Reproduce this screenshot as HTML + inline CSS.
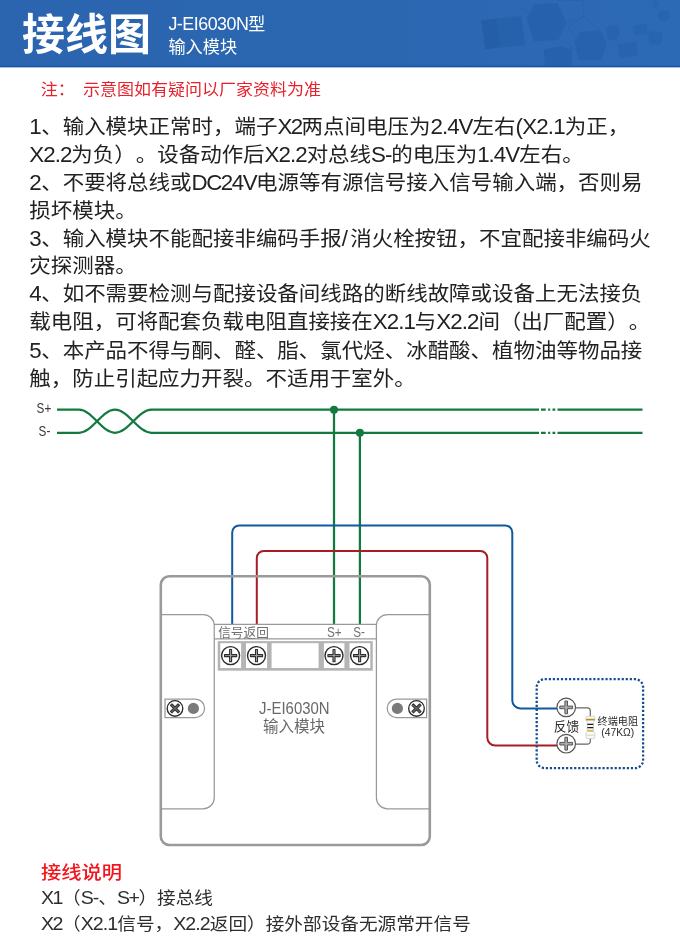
<!DOCTYPE html>
<html lang="zh-CN">
<head>
<meta charset="utf-8">
<title>接线图 J-EI6030N型 输入模块</title>
<style>
*{margin:0;padding:0;box-sizing:border-box}
html,body{width:680px;height:943px;overflow:hidden;background:#fff}
#page{position:absolute;left:0;top:0;width:680px;height:943px;background:#fff;overflow:hidden;will-change:transform}
body{position:relative;text-spacing-trim:space-all;font-kerning:none;font-family:"Liberation Sans","Noto Sans CJK SC",sans-serif;color:#1f1f1f}
.abs{position:absolute;white-space:nowrap}
#hdr{position:absolute;left:0;top:0;width:680px;height:68px;overflow:hidden}
#title{left:22px;top:13.3px;font-size:43px;line-height:44px;font-weight:700;color:#fff}
#sub1{left:168.4px;top:13.9px;font-size:17px;line-height:22px;color:#fff}
#sub2{left:168.4px;top:35.6px;font-size:17.2px;line-height:22px;color:#fff}
#note{left:40.7px;top:79.4px;font-size:17px;line-height:22px;color:#e8202c;transform-origin:0 19px;transform:scaleY(0.95)}
#note span{position:absolute;left:42.3px;top:0}
#pw{position:absolute;left:29.3px;top:113.65px;transform-origin:0 0;transform:scaleY(0.96);white-space:nowrap;font-size:21.47px;line-height:29.06px;color:#222}
#pw span,.d span,#sub1 span{line-height:0}
.h2{left:41px;top:860.4px;font-size:20.3px;line-height:26px;color:#f4141c;font-weight:500;transform-origin:0 50%;transform:scaleY(0.92)}
.d{left:41px;font-size:18.65px;line-height:26px;color:#2e2e2e;transform-origin:0 20.5px;transform:scaleY(0.94)}
svg{position:absolute;left:0;top:0;overflow:visible}
svg text{font-family:"Liberation Sans","Noto Sans CJK SC",sans-serif}
</style>
</head>
<body>
<div id="page">
<div id="hdr">
<svg id="deco" width="680" height="68" viewBox="0 0 680 68">
<defs><linearGradient id="hg" x1="0" y1="0" x2="1" y2="0"><stop offset="0" stop-color="#2b65af"/><stop offset="0.55" stop-color="#2b66b1"/><stop offset="1" stop-color="#2d6ab6"/></linearGradient></defs>
<rect width="680" height="66" fill="url(#hg)"/>
<g fill="#1d54a0" fill-opacity="0.32">
<polygon points="481.3,20.2 521.5,16.1 525.2,44.9 485.4,49"/>
<polygon points="481.3,20.2 496.5,18.6 499.8,47.5 485.4,49" fill-opacity="0.2"/>
<polygon points="526.6,18.5 533.8,4.5 557.5,3.1 566.4,22.6 558.5,40.1 533.8,41.2"/>
<polygon points="574.5,41.5 580.3,31.8 600.6,30.4 606.8,44.1 601.5,60 578.5,60"/>
<polygon points="543.7,49.4 560.6,46.3 571.9,49.4 571.9,67 545.2,67"/>
<polygon points="605.5,29.1 609.4,25.6 618.2,25.2 620,33.5 616.5,40.6 608.5,39.7" fill-opacity="0.26"/>
<polygon points="617.4,44.1 636.8,41.5 637.6,55.6 619.1,57.9" fill-opacity="0.26"/>
<polygon points="633.2,25.6 646.5,23.8 647.4,33.5 635,35.3" fill-opacity="0.24"/>
<polygon points="647.4,34.4 651.8,30.9 661.5,31.8 663.2,39.7 658.8,45.5 650,44.1" fill-opacity="0.24"/>
<polygon points="657.6,14.1 661.5,9.7 668.5,10.9 669.8,17.6 665.5,22.1 659.2,20.3" fill-opacity="0.22"/>
<polygon points="651.8,0.9 655.3,0 658.8,1.8 658.8,6.2 655.3,7.4 652.6,5.3" fill-opacity="0.2"/>
</g>
<g stroke="#1d4f96" stroke-opacity="0.3" stroke-width="0.7" fill="none">
<path d="M517.5,4.5L529.5,14M557,0L582.5,0.5L584,16.5L566.4,22.6M584,16.5L600,30M566.4,22.6L575,38M543,57L549,49M566,41L575,50M584,16.5L569,26"/>
</g>
<rect y="65.6" width="680" height="1.4" fill="#1755ad"/>
<rect y="67" width="680" height="1" fill="#a9c1e1"/>
</svg>
<div id="title" class="abs">接线图</div>
<div id="sub1" class="abs"><span style="font-size:1.05em;letter-spacing:-0.027em">J-EI6030N</span>型</div>
<div id="sub2" class="abs">输入模块</div>
</div>
<div id="note" class="abs">注：<span>示意图如有疑问以厂家资料为准</span></div>
<div id="pw">
<div><span style="font-size:1.04em;letter-spacing:-0.022em">1</span>、输入模块正常时，端子<span style="font-size:1.04em;letter-spacing:-0.069em">X2</span>两点间电压为<span style="font-size:1.04em;letter-spacing:-0.042em">2.4V</span>左右<span style="font-size:1.04em;letter-spacing:-0.036em">(X2.1</span>为正，</div>
<div><span style="font-size:1.04em;letter-spacing:-0.043em">X2.2</span>为负）。设备动作后<span style="font-size:1.04em;letter-spacing:-0.043em">X2.2</span>对总线<span style="font-size:1.04em;letter-spacing:-0.047em">S-</span>的电压为<span style="font-size:1.04em;letter-spacing:-0.042em">1.4V</span>左右。</div>
<div><span style="font-size:1.04em;letter-spacing:-0.022em">2</span>、不要将总线或<span style="font-size:1.04em;letter-spacing:-0.066em">DC24V</span>电源等有源信号接入信号输入端，否则易</div>
<div>损坏模块。</div>
<div><span style="font-size:1.04em;letter-spacing:-0.022em">3</span>、输入模块不能配接非编码手报<span style="font-size:1.04em;letter-spacing:0.099em">/</span>消火栓按钮，不宜配接非编码火</div>
<div>灾探测器。</div>
<div><span style="font-size:1.04em;letter-spacing:-0.022em">4</span>、如不需要检测与配接设备间线路的断线故障或设备上无法接负</div>
<div>载电阻，可将配套负载电阻直接接在<span style="font-size:1.04em;letter-spacing:-0.043em">X2.1</span>与<span style="font-size:1.04em;letter-spacing:-0.043em">X2.2</span>间（出厂配置）。</div>
<div><span style="font-size:1.04em;letter-spacing:-0.022em">5</span>、本产品不得与酮、醛、脂、氯代烃、冰醋酸、植物油等物品接</div>
<div>触，防止引起应力开裂。不适用于室外。</div>
</div>
<svg id="dia" width="680" height="943" viewBox="0 0 680 943" fill="none">
<!-- bus -->
<g stroke="#127a3f" stroke-width="2.25" stroke-linecap="butt">
<path d="M57,409.7 H79C92.3,409.7 101.7,432.8 115,432.8C128.5,432.8 138.0,409.7 151.5,409.7H539M541,409.7 h4.7M548.2,409.7 h2M552.5,409.7 h2.8M557.5,409.7 H642.5"/>
<path d="M57,432.8 H79C92.3,432.8 101.7,409.7 115,409.7C128.5,409.7 138.0,432.8 151.5,432.8H539M541,432.8 h4.7M548.2,432.8 h2M552.5,432.8 h2.8M557.5,432.8 H642.5"/>
<path d="M334,409.7V624.4M359.9,432.8V624.4"/>
</g>
<circle cx="334" cy="409.7" r="4" fill="#127a3f"/>
<circle cx="359.9" cy="432.8" r="4" fill="#127a3f"/>
<!-- feedback wires -->
<path d="M232.2,624.4V532.4A7,7 0 0 1 239.2,525.4H505.3A7,7 0 0 1 512.3,532.4V700.4A8,8 0 0 0 520.3,708.4H557" stroke="#10599e" stroke-width="2"/>
<path d="M256.8,624.4V558A7,7 0 0 1 263.8,551H480.3A7,7 0 0 1 487.3,558V737.6A8,8 0 0 0 495.3,745.6H557.6" stroke="#a81c25" stroke-width="2"/>
<!-- module -->
<rect x="160.8" y="576.3" width="269" height="268.7" rx="8.5" stroke="#9a9a9a" stroke-width="2.6"/>
<g stroke="#999" stroke-width="1.25">
<path d="M161,614.5H203.25A11,11 0 0 1 214.25,625.5V797.75A11,11 0 0 1 203.25,808.75H161"/>
<path d="M429.8,614.5H387.4A11,11 0 0 0 376.4,625.5V797.75A11,11 0 0 0 387.4,808.75H429.8"/>
<path d="M214.25,624.4H376.4M214.25,638.9H376.4"/>
<path d="M165,699.1H195.4A9.2,9.2 0 0 1 195.4,717.5H165Z"/>
<path d="M426.6,699.1H396.4A9.2,9.2 0 0 0 396.4,717.5H426.6Z"/>
</g>
<rect x="217.75" y="641.1" width="155" height="29.6" fill="#b4b4b4"/>
<g fill="#fff">
<rect x="220.3" y="643.2" width="20.8" height="24.8"/>
<rect x="246" y="643.2" width="21.1" height="24.8"/>
<rect x="271.6" y="643.2" width="47" height="24.8"/>
<rect x="323.9" y="643.2" width="20.5" height="24.8"/>
<rect x="349.5" y="643.2" width="20.8" height="24.8"/>
</g>
<defs>
<g id="scr"><circle r="9" fill="#fff" stroke="#2b2b2b" stroke-width="1.4"/><path d="M-1,-6.1h2v5.1h5.1v2h-5.1v5.1h-2v-5.1h-5.1v-2h5.1z" fill="#aaa" stroke="#2e2e2e" stroke-width="1.1" stroke-linejoin="round"/></g>
<g id="scr2"><circle r="9.3" fill="#fff" stroke="#555" stroke-width="1.2"/><path d="M-1.3,-6.4h2.6v5.1h5.1v2.6h-5.1v5.1h-2.6v-5.1h-5.1v-2.6h5.1z" fill="#aaa" stroke="#555" stroke-width="1" stroke-linejoin="round"/></g>
<g id="xs"><circle r="7.8" fill="#fff" stroke="#2a2a2a" stroke-width="1.35"/><path d="M-1.1,-5.4h2.2v4.3h4.3v2.2h-4.3v4.3h-2.2v-4.3h-4.3v-2.2h4.3z" transform="rotate(45)" fill="#666" stroke="#333" stroke-width="1" stroke-linejoin="round"/></g>
</defs>
<use href="#scr" x="230.6" y="655.6"/>
<use href="#scr" x="256.5" y="655.6"/>
<use href="#scr" x="334" y="655.6"/>
<use href="#scr" x="359.6" y="655.6"/>
<use href="#xs" x="175" y="708.4"/>
<use href="#xs" x="416.5" y="708.4"/>
<circle cx="193.4" cy="708.4" r="5.6" fill="#7a7a7a"/>
<circle cx="397.4" cy="708.4" r="5.6" fill="#7a7a7a"/>
<g fill="#707070" style="font-size:12.7px">
<text x="218.2" y="637.4">信号返回</text>
<text transform="translate(327,637.3) scale(0.82,1)" style="font-size:14.3px">S+</text>
<text transform="translate(353.2,637.3) scale(0.82,1)" style="font-size:14.3px">S-</text>
</g>
<g fill="#686868" text-anchor="middle">
<text transform="translate(294.3,713.7) scale(0.945,1)" style="font-size:15.8px">J-EI6030N</text>
<text x="294" y="731.9" style="font-size:15.5px">输入模块</text>
</g>
<!-- labels -->
<g fill="#3a3a3a" style="font-size:13.8px">
<text transform="translate(36.6,413.1) scale(0.85,1)">S+</text>
<text transform="translate(38.6,436.1) scale(0.85,1)">S-</text>
</g>
<!-- feedback box -->
<rect x="536.7" y="679.2" width="106.4" height="88.9" rx="8" stroke="#174f8d" stroke-width="2.3" stroke-dasharray="2.2 1.85"/>
<path d="M575.5,707.8H587.3A3,3 0 0 1 590.3,710.8V716.4M575.5,744.2H587.3A3,3 0 0 0 590.3,741.2V738.2" stroke="#666" stroke-width="1.2"/>
<path d="M586.9,716.3H593.9Q594.9,716.3 594.9,717.3V720.6Q593.4,721.4 593.4,722.6V731Q593.4,732.2 594.9,733V737.4Q594.9,738.4 593.9,738.4H586.9Q585.9,738.4 585.9,737.4V733Q587.3,732.2 587.3,731V722.6Q587.3,721.4 585.9,720.6V717.3Q585.9,716.3 586.9,716.3Z" fill="#fafafa" stroke="#c4c4c4" stroke-width="0.7"/>
<path d="M586.1,719.6H594.7" stroke="#b39216" stroke-width="1.7"/>
<path d="M587.4,724.4H593.3M587.4,727.6H593.3" stroke="#1a1a1a" stroke-width="1.2"/>
<path d="M587.4,730.8H593.3" stroke="#dcbc2c" stroke-width="1.8"/>
<path d="M586.3,735.2H594.5" stroke="#ddd" stroke-width="1.4"/>
<use href="#scr2" x="566.2" y="707.4"/>
<use href="#scr2" x="566.2" y="743.7"/>
<g fill="#2a2a2a">
<text x="553.8" y="731" style="font-size:12.7px">反馈</text>
<text x="617.8" y="724.5" text-anchor="middle" style="font-size:10.15px">终端电阻</text>
<text x="617.7" y="736.4" text-anchor="middle" style="font-size:10.3px">(47KΩ)</text>
</g>
</svg>
<div class="abs h2">接线说明</div>
<div class="abs d" style="top:885px"><span style="font-size:1.05em;letter-spacing:-0.074em">X1</span>（<span style="font-size:1.05em;letter-spacing:-0.051em">S-</span>、<span style="font-size:1.05em;letter-spacing:-0.077em">S+</span>）接总线</div>
<div class="abs d" style="top:911px"><span style="font-size:1.05em;letter-spacing:-0.074em">X2</span>（<span style="font-size:1.05em;letter-spacing:-0.047em">X2.1</span>信号，<span style="font-size:1.05em;letter-spacing:-0.047em">X2.2</span>返回）接外部设备无源常开信号</div>
</div>
</body>
</html>
